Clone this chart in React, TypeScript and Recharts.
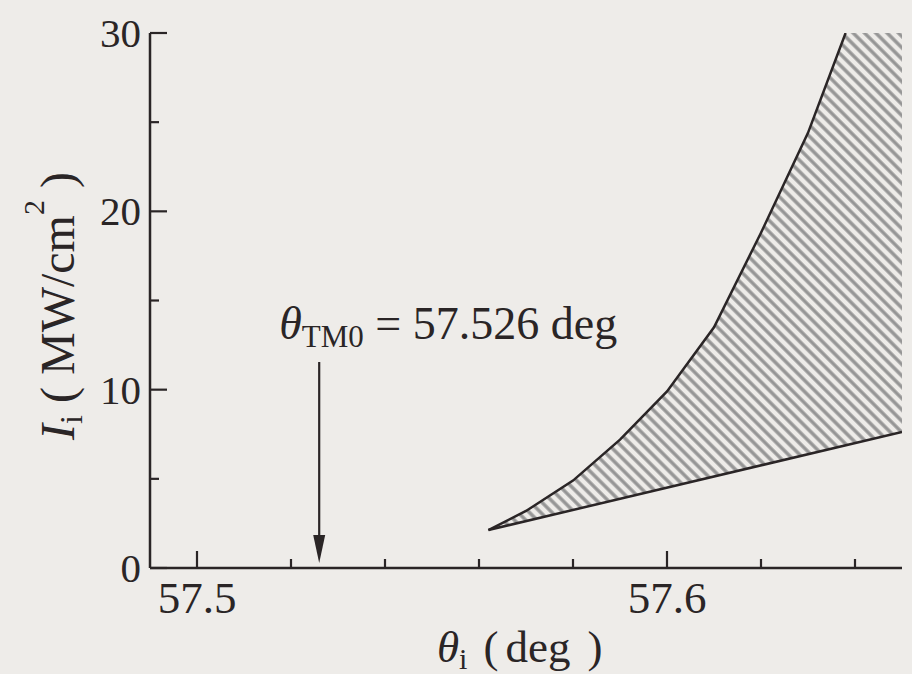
import React from "react";
import { ComposedChart, Area, Line, XAxis, YAxis, ReferenceLine } from "recharts";

// upper threshold curve (polyline)
const thetaUpper = [57.562, 57.57, 57.58, 57.59, 57.6, 57.61, 57.62, 57.63, 57.638];
const iUpper = [2.13, 3.2, 4.9, 7.2, 9.9, 13.5, 18.8, 24.4, 30];

// lower threshold line
const thetaLower = [57.562, 57.65];
const iLower = [2.13, 7.63];

// hatched band between the two curves (top clipped at 30)
const thetaBand = [57.562, 57.57, 57.58, 57.59, 57.6, 57.61, 57.62, 57.63, 57.638, 57.65];
const bandLow = [2.13, 2.63, 3.25, 3.88, 4.5, 5.13, 5.75, 6.38, 6.88, 7.63];
const bandHigh = [2.13, 3.2, 4.9, 7.2, 9.9, 13.5, 18.8, 24.4, 30, 30];

const xTicks = [57.5, 57.52, 57.54, 57.56, 57.58, 57.6, 57.62, 57.64];
const xMajor = [57.5, 57.6];
const yTicks = [0, 5, 10, 15, 20, 25, 30];
const yMajor = [0, 10, 20, 30];

const THETA_TM0 = 57.526;
const arrowTop = 11.55;
const arrowTip = 0.28;

const INK = "#2a2526";
const PAPER = "#eeece9";
const HATCH = "#959595";
const FONT = '"Liberation Serif", "Times New Roman", serif';

const upperData = thetaUpper.map((theta, i) => ({ theta, I: iUpper[i] }));
const lowerData = thetaLower.map((theta, i) => ({ theta, I: iLower[i] }));
const bandData = thetaBand.map((theta, i) => ({ theta, band: [bandLow[i], bandHigh[i]] }));

const isMajor = (v: number, majors: number[]) => majors.some((m) => Math.abs(m - v) < 1e-9);

const BottomTick = (props: any) => {
  const { x, y, payload } = props;
  const major = isMajor(payload.value, xMajor);
  return (
    <g>
      <line x1={x} x2={x} y1={y} y2={y - (major ? 17 : 9)} stroke={INK} strokeWidth={2.2} />
      {major && (
        <text x={x} y={y + 45} textAnchor="middle" fontSize={45} fill={INK} style={{ fontFamily: FONT }}>
          {payload.value}
        </text>
      )}
    </g>
  );
};

const TopTick = (props: any) => {
  const { x, y, payload } = props;
  const major = isMajor(payload.value, xMajor);
  return <line x1={x} x2={x} y1={y} y2={y + (major ? 17 : 9)} stroke={INK} strokeWidth={2.2} />;
};

const LeftTick = (props: any) => {
  const { x, y, payload } = props;
  const major = isMajor(payload.value, yMajor);
  return (
    <g>
      <line x1={x} x2={x + (major ? 17 : 9)} y1={y} y2={y} stroke={INK} strokeWidth={2.2} />
      {major && (
        <text x={x - 9} y={y + 14} textAnchor="end" fontSize={41} fill={INK} style={{ fontFamily: FONT }}>
          {payload.value}
        </text>
      )}
    </g>
  );
};

const RightTick = (props: any) => {
  const { x, y, payload } = props;
  const major = isMajor(payload.value, yMajor);
  return <line x1={x} x2={x - (major ? 13 : 9)} y1={y} y2={y} stroke={INK} strokeWidth={2.2} />;
};

// downward arrow marking theta_TM0, with its caption
const TM0Arrow = (props: any) => {
  const { x1, y1, y2 } = props;
  const head = 28;
  return (
    <g>
      <line x1={x1} x2={x1} y1={y1} y2={y2 - head + 2} stroke={INK} strokeWidth={2.2} />
      <polygon points={`${x1 - 6},${y2 - head} ${x1 + 6},${y2 - head} ${x1},${y2}`} fill={INK} />
      <text x={x1 - 40} y={y1 - 23} fontSize={46} fill={INK} style={{ fontFamily: FONT }}>
        <tspan fontStyle="italic">θ</tspan>
        <tspan fontSize={31} dy={8}>TM0</tspan>
        <tspan dy={-8}> = {THETA_TM0} deg</tspan>
      </text>
    </g>
  );
};

export default function App() {
  return (
    <div style={{ position: "absolute", left: 0, top: 0, width: 912, height: 674, background: PAPER }}>
      <ComposedChart
        width={912}
        height={674}
        margin={{ top: 33, right: 10, bottom: 0, left: 0 }}
        style={{ fontFamily: FONT }}
      >
        <defs>
          <pattern id="hatch" patternUnits="userSpaceOnUse" width={8} height={8} patternTransform="rotate(45)">
            <rect width={8} height={8} fill={PAPER} />
            <line x1={0} x2={8} y1={4} y2={4} stroke={HATCH} strokeWidth={3.4} />
          </pattern>
        </defs>

        <XAxis
          dataKey="theta"
          type="number"
          domain={[57.49, 57.65]}
          allowDataOverflow
          ticks={xTicks}
          interval={0}
          tickSize={0}
          tickMargin={0}
          tickLine={false}
          tick={<BottomTick />}
          axisLine={{ stroke: INK, strokeWidth: 2.5 }}
          height={106}
        />
        <XAxis
          xAxisId="top"
          orientation="top"
          dataKey="theta"
          type="number"
          domain={[57.49, 57.65]}
          allowDataOverflow
          ticks={xTicks}
          interval={0}
          tickSize={0}
          tickMargin={0}
          tickLine={false}
          tick={<TopTick />}
          axisLine={{ stroke: INK, strokeWidth: 2.5 }}
          height={0}
        />
        <YAxis
          type="number"
          domain={[0, 30]}
          allowDataOverflow
          ticks={yTicks}
          interval={0}
          tickSize={0}
          tickMargin={0}
          tickLine={false}
          tick={<LeftTick />}
          axisLine={{ stroke: INK, strokeWidth: 2.5 }}
          width={150}
        />
        <YAxis
          yAxisId="right"
          orientation="right"
          type="number"
          domain={[0, 30]}
          allowDataOverflow
          ticks={yTicks}
          interval={0}
          tickSize={0}
          tickMargin={0}
          tickLine={false}
          tick={<RightTick />}
          axisLine={{ stroke: INK, strokeWidth: 2.5 }}
          width={0}
        />

        <Area
          data={bandData}
          dataKey="band"
          type="linear"
          stroke="none"
          fill="url(#hatch)"
          fillOpacity={1}
          isAnimationActive={false}
        />
        <Line data={upperData} dataKey="I" type="linear" stroke={INK} strokeWidth={2.5} dot={false} isAnimationActive={false} />
        <Line data={lowerData} dataKey="I" type="linear" stroke={INK} strokeWidth={2.5} dot={false} isAnimationActive={false} />

        <ReferenceLine
          segment={[
            { x: THETA_TM0, y: arrowTop },
            { x: THETA_TM0, y: arrowTip },
          ]}
          shape={(p: any) => <TM0Arrow {...p} />}
        />

        <text transform="rotate(-90, 74, 306)" x={74} y={306} textAnchor="middle" fontSize={48} fill={INK} style={{ fontFamily: FONT }}>
          <tspan fontStyle="italic">I</tspan>
          <tspan fontSize={32} dy={8}>i</tspan>
          <tspan dy={-8}> ( MW/cm</tspan>
          <tspan fontSize={30} dy={-30}>2</tspan>
          <tspan dy={30}> )</tspan>
        </text>
        <text x={437} y={662} fontSize={45} fill={INK} style={{ fontFamily: FONT }}>
          <tspan fontStyle="italic">θ</tspan>
          <tspan fontSize={30} dy={7}>i</tspan>
          <tspan dy={-7} dx={16}>(</tspan>
          <tspan dx={7}>deg</tspan>
          <tspan dx={17}>)</tspan>
        </text>
      </ComposedChart>
    </div>
  );
}
